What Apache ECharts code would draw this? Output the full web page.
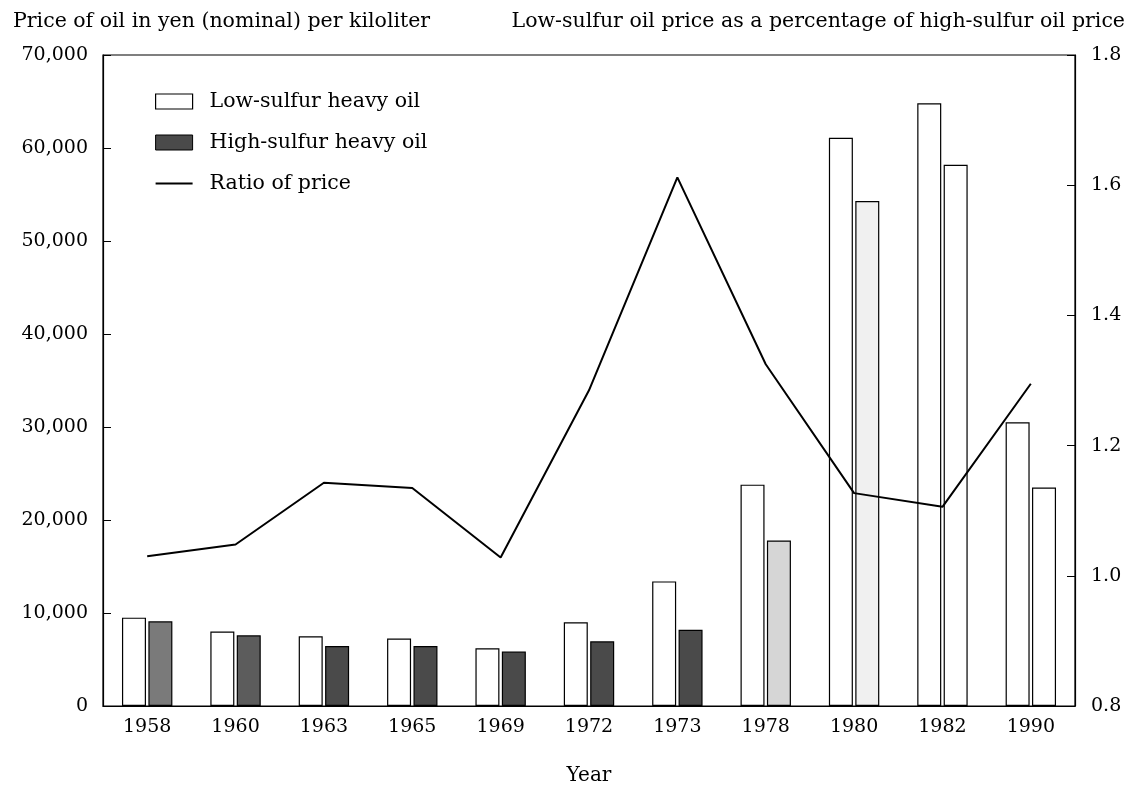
<!DOCTYPE html>
<html>
<head>
<meta charset="utf-8">
<script src="https://cdn.jsdelivr.net/npm/echarts@6/dist/echarts.min.js"></script>
<style>
  html, body { margin: 0; padding: 0; background: #fff; }
  #chart { width: 1132px; height: 788px; }
</style>
</head>
<body>
<div id="chart"></div>
<script>
// years on the x axis
var years = ['1958', '1960', '1963', '1965', '1969', '1972', '1973', '1978', '1980', '1982', '1990'];
// yen per kiloliter
var lowSulfur = [9500, 8000, 7500, 7250, 6200, 9000, 13400, 23800, 61100, 64800, 30500];
var highSulfur = [9100, 7600, 6450, 6450, 5850, 6950, 8200, 17800, 54300, 58200, 23500];
// low / high price ratio (right axis)
var priceRatio = [1.03, 1.048, 1.143, 1.135, 1.028, 1.285, 1.612, 1.325, 1.127, 1.106, 1.295];

var leftTicks = { min: 0, max: 70000, interval: 10000 };
var rightTicks = { min: 0.8, max: 1.8, interval: 0.2 };

var serif = 'DejaVu Serif';

var chart = echarts.init(document.getElementById('chart'), null, { renderer: 'canvas' });

// the scan lost most of the screen tone on the tall dark bars
function highTone(p) {
  var i = p.dataIndex;
  if (i === 0) return '#7a7a7a';
  if (i === 1) return '#5c5c5c';
  if (i <= 6) return '#4a4a4a';
  if (i === 7) return '#d6d6d6';
  if (i === 8) return '#f0f0f0';
  return '#ffffff';
}

var option = {
  animation: false,
  backgroundColor: '#fff',
  textStyle: { fontFamily: serif, color: '#000' },
  title: [
    {
      text: 'Price of oil in yen (nominal) per kiloliter',
      left: 8, top: 6,
      textStyle: { fontFamily: serif, fontSize: 20.5, fontWeight: 'normal', color: '#000' }
    },
    {
      text: 'Low-sulfur oil price as a percentage of high-sulfur oil price',
      right: 2, top: 6,
      textStyle: { fontFamily: serif, fontSize: 20.5, fontWeight: 'normal', color: '#000' }
    }
  ],
  legend: {
    orient: 'vertical',
    left: 150, top: 86,
    itemWidth: 37, itemHeight: 15,
    itemGap: 20,
    textStyle: { fontFamily: serif, fontSize: 20.5, color: '#000', padding: [0, 0, 0, 12] },
    data: [
      { name: 'Low-sulfur heavy oil', icon: 'rect', itemStyle: { color: '#fff', borderColor: '#000', borderWidth: 1.2 } },
      { name: 'High-sulfur heavy oil', icon: 'rect', itemStyle: { color: '#4a4a4a', borderColor: '#000', borderWidth: 1 } },
      { name: 'Ratio of price', icon: 'path://M0,0 L40,0 L40,2 L0,2 Z', itemStyle: { color: '#000' } }
    ]
  },
  grid: {
    left: 103, right: 57, top: 55, bottom: 82,
    outerBoundsMode: 'none', containLabel: false,
    show: true, borderColor: '#000', borderWidth: 1.2
  },
  xAxis: {
    type: 'category',
    data: years,
    name: 'Year',
    nameLocation: 'middle',
    nameGap: 60,
    nameTextStyle: { fontFamily: serif, fontSize: 20, color: '#000' },
    axisLine: { lineStyle: { color: '#000', width: 1.2 } },
    axisTick: { show: false },
    axisLabel: { fontFamily: serif, fontSize: 19, color: '#000', margin: 12 }
  },
  yAxis: [
    {
      type: 'value',
      min: leftTicks.min, max: leftTicks.max, interval: leftTicks.interval,
      axisLine: { show: true, lineStyle: { color: '#000', width: 1.2 } },
      axisTick: { show: true, inside: true, length: 8, lineStyle: { color: '#000' } },
      splitLine: { show: false },
      axisLabel: {
        fontFamily: serif, fontSize: 19, color: '#000', margin: 15,
        formatter: function (v) { return v.toLocaleString('en-US'); }
      }
    },
    {
      type: 'value',
      min: rightTicks.min, max: rightTicks.max, interval: rightTicks.interval,
      position: 'right',
      axisLine: { show: true, lineStyle: { color: '#000', width: 1.2 } },
      axisTick: { show: true, inside: true, length: 8, lineStyle: { color: '#000' } },
      splitLine: { show: false },
      axisLabel: {
        fontFamily: serif, fontSize: 19, color: '#000', margin: 16,
        formatter: function (v) { return v.toFixed(1); }
      }
    }
  ],
  series: [
    {
      name: 'Low-sulfur heavy oil',
      type: 'bar',
      data: lowSulfur,
      barWidth: 24,
      barGap: '10%',
      itemStyle: { color: '#fff', borderColor: '#000', borderWidth: 1.2 }
    },
    {
      name: 'High-sulfur heavy oil',
      type: 'bar',
      data: highSulfur,
      barWidth: 24,
      itemStyle: { color: highTone, borderColor: '#000', borderWidth: 1.2 }
    },
    {
      name: 'Ratio of price',
      type: 'line',
      yAxisIndex: 1,
      data: priceRatio,
      symbol: 'none',
      z: 5,
      lineStyle: { color: '#000', width: 2 },
      itemStyle: { color: '#000' }
    }
  ]
};

chart.setOption(option);
</script>
</body>
</html>
